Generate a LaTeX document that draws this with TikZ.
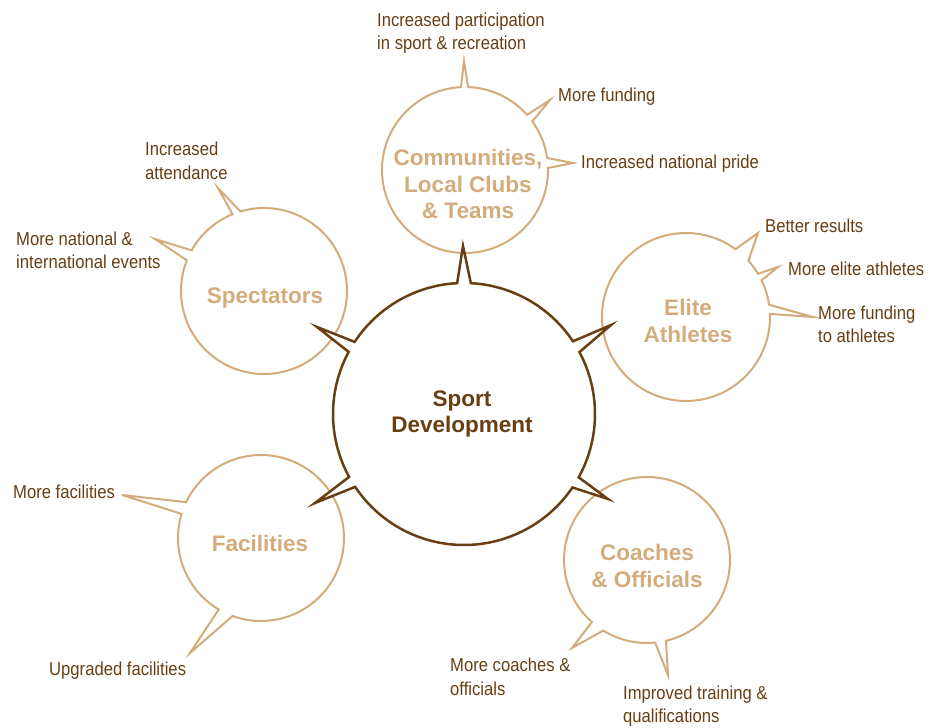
\documentclass[tikz,border=0pt]{standalone}
\usepackage{fontspec}
\setmainfont{Liberation Sans}
\newfontfamily\condfont[FakeStretch=0.89]{Liberation Sans}
\definecolor{brn}{RGB}{104,62,18}
\definecolor{bubtan}{RGB}{212,172,124}
\begin{document}
\begin{tikzpicture}[x=1pt,y=-1pt,
  lbl/.style={font=\condfont\fontsize{18.7}{23.5}\selectfont, text=brn, align=left, inner sep=0pt, anchor=west},
  ttl/.style={font=\bfseries\fontsize{22.5}{26.5}\selectfont, text=bubtan, align=center, inner sep=0pt},
  outerb/.style={draw=bubtan, line width=2pt},
  innerb/.style={draw=brn, line width=2.5pt, fill=white}]
\useasboundingbox (0,0) rectangle (940,728);

% Communities
\draw[outerb] ([shift={(-92.8:83)}]465,170) -- (464,61) -- ([shift={(-87.9:83)}]465,170)
  arc[start angle=-87.9, end angle=-41.6, radius=83] -- (550,100) -- ([shift={(-35.8:83)}]465,170)
  arc[start angle=-35.8, end angle=-8.3, radius=83] -- (573,163) -- ([shift={(-1.4:83)}]465,170)
  arc[start angle=-1.4, end angle=267.2, radius=83] -- cycle;
% Spectators
\draw[outerb] ([shift={(201.7:83)}]264,291) -- (155,239) -- ([shift={(209.3:83)}]264,291)
  arc[start angle=209.3, end angle=247.7, radius=83] -- (218,188) -- ([shift={(253.5:83)}]264,291)
  arc[start angle=253.5, end angle=561.7, radius=83] -- cycle;
% Elite athletes
\draw[outerb] ([shift={(-53.8:84)}]686,317) -- (758,233) -- ([shift={(-42:84)}]686,317)
  arc[start angle=-42, end angle=-31, radius=84] -- (778,267) -- ([shift={(-25.9:84)}]686,317)
  arc[start angle=-25.9, end angle=-8.4, radius=84] -- (813,317) -- ([shift={(-2.1:84)}]686,317)
  arc[start angle=-2.1, end angle=306.2, radius=84] -- cycle;
% Facilities
\draw[outerb] ([shift={(110:83)}]261,538) -- (190,653) -- ([shift={(120.6:83)}]261,538)
  arc[start angle=120.6, end angle=196.9, radius=83] -- (122,495) -- ([shift={(205.6:83)}]261,538)
  arc[start angle=205.6, end angle=470, radius=83] -- cycle;
% Coaches
\draw[outerb] ([shift={(76.8:83)}]647,560) -- (668,675) -- ([shift={(84.4:83)}]647,560)
  arc[start angle=84.4, end angle=121.8, radius=83] -- (572,648) -- ([shift={(131.6:83)}]647,560)
  arc[start angle=131.6, end angle=436.8, radius=83] -- cycle;
% Centre
\draw[innerb] ([shift={(-93:131)}]464,414) -- (463,246) -- ([shift={(-87:131)}]464,414)
  arc[start angle=-87, end angle=-33.7, radius=131] -- (611,325) -- ([shift={(-28.2:131)}]464,414)
  arc[start angle=-28.2, end angle=28.9, radius=131] -- (608,499) -- ([shift={(34.1:131)}]464,414)
  arc[start angle=34.1, end angle=146.2, radius=131] -- (315,503) -- ([shift={(151.3:131)}]464,414)
  arc[start angle=151.3, end angle=208.3, radius=131] -- (317,327) -- ([shift={(213.4:131)}]464,414)
  arc[start angle=213.4, end angle=267, radius=131] -- cycle;

% Titles
\node[ttl] (tcom) at (468,184) {Communities,\\Local Clubs\\\& Teams};
\node[ttl] (tspe) at (265,298) {Spectators};
\node[ttl] (teli) at (688,321) {Elite\\Athletes};
\node[ttl] (tfac) at (260,543) {Facilities};
\node[ttl] (tcoa) at (647,566) {Coaches\\\& Officials};
\node[ttl, text=brn] (tsd) at (462,414) {Sport\\Development};

% Labels
\node[lbl] (l1) at (377,33) {Increased participation\\in sport \& recreation};
\node[lbl] (l2) at (558,97) {More funding};
\node[lbl] (l3) at (581,164) {Increased national pride};
\node[lbl] (l4) at (145,161) {Increased\\attendance};
\node[lbl] (l5) at (16,250.5) {More national \&\\international events};
\node[lbl] (l6) at (765,226) {Better results};
\node[lbl] (l7) at (788,269) {More elite athletes};
\node[lbl] (l8) at (818,324.5) {More funding\\to athletes};
\node[lbl] (l9) at (13,492) {More facilities};
\node[lbl] (l10) at (49,671) {Upgraded facilities};
\node[lbl] (l11) at (450,677) {More coaches \&\\officials};
\node[lbl] (l12) at (623,706) {Improved training \&\\qualifications};
\end{tikzpicture}
\end{document}
